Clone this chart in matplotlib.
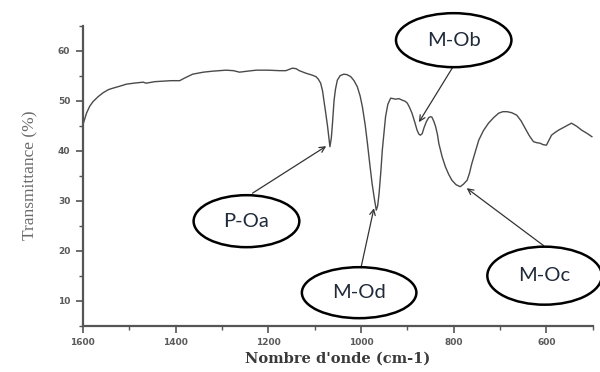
import matplotlib
matplotlib.use("Agg")
import matplotlib.pyplot as plt
from matplotlib.patches import Ellipse
from matplotlib.ticker import MultipleLocator

# IR spectrum: wavenumber (cm-1) and transmittance (%)
wavenumber = [
    1600, 1592, 1585, 1578, 1567, 1556, 1545, 1535, 1520, 1506, 1490, 1470, 1463,
    1445, 1427, 1410, 1391, 1381, 1370, 1363, 1340, 1320, 1291, 1275, 1262, 1245,
    1226, 1200, 1176, 1162, 1148, 1140, 1133, 1119, 1105, 1097, 1092, 1087, 1083,
    1080, 1076, 1072, 1069, 1067, 1064, 1062, 1060, 1058, 1055, 1051, 1045, 1037,
    1030, 1022, 1015, 1008, 1002, 997, 991, 986, 981, 976, 971, 967, 964, 961,
    957, 954, 950, 947, 942, 936, 930, 926, 918, 911, 905, 900, 895, 890, 884,
    879, 875, 872, 868, 864, 859, 854, 850, 847, 843, 839, 835, 832, 825, 818,
    811, 804, 795, 786, 779, 771, 766, 761, 753, 746, 736, 725, 714, 703, 694,
    685, 675, 664, 655, 646, 637, 628, 621, 614, 607, 600, 595, 589, 582, 574,
    560, 546, 535, 524, 513, 502,
]
transmittance = [
    45.1, 47.5, 48.9, 49.8, 50.8, 51.6, 52.2, 52.5, 52.9, 53.3, 53.5, 53.7, 53.5,
    53.8, 53.9, 54.0, 54.0, 54.5, 55.0, 55.3, 55.7, 55.9, 56.1, 56.0, 55.7, 55.9,
    56.1, 56.1, 56.0, 56.0, 56.5, 56.4, 56.0, 55.5, 55.1, 54.8, 54.3, 53.5, 52.0,
    50.1, 47.5, 44.8, 42.5, 40.8, 42.5, 44.8, 47.5, 50.1, 52.3, 54.1, 55.0, 55.3,
    55.2, 54.8, 54.0, 52.8, 51.0, 48.8, 45.2, 41.4, 37.3, 33.4, 30.3, 28.1, 29.0,
    31.4, 36.0, 40.1, 44.0, 46.8, 49.3, 50.5, 50.4, 50.3, 50.4, 50.1, 49.9, 49.5,
    48.6, 47.5, 45.7, 44.1, 43.3, 43.1, 43.4, 44.6, 45.8, 46.6, 46.8, 46.7, 45.9,
    44.8, 43.2, 41.4, 38.8, 36.8, 35.3, 34.1, 33.2, 32.8, 33.3, 34.1, 35.5, 37.4,
    39.9, 42.1, 44.0, 45.5, 46.6, 47.5, 47.8, 47.8, 47.6, 47.1, 46.0, 44.5, 43.0,
    41.8, 41.6, 41.5, 41.2, 41.1, 42.0, 43.1, 43.6, 44.1, 44.8, 45.5, 44.9, 44.1,
    43.5, 42.8,
]

# Band assignments: label, band position (arrow tip), label centre, arrow start
band_labels = ["P-Oa", "M-Od", "M-Ob", "M-Oc"]
band_tips = [(1075, 40.9), (972, 28.5), (875, 45.7), (772, 32.5)]
label_centres = [(1247, 25.9), (1004, 11.6), (800, 62.1), (604, 15.0)]
arrow_starts = [(1234, 31.5), (1000, 16.6), (802, 56.7), (606, 21.0)]
ellipse_sizes = [(228, 10.4), (247, 10.2), (249, 10.8), (247, 11.6)]

x_ticks = [1600, 1400, 1200, 1000, 800, 600]
y_ticks = [10, 20, 30, 40, 50, 60]

fig = plt.figure(figsize=(6.0, 3.72), dpi=100)
ax = fig.add_axes([0.138, 0.1245, 0.850, 0.8065])

ax.plot(wavenumber, transmittance, color="#4a4a4a", lw=1.0)

ax.set_xlim(1600, 500)
ax.set_ylim(5, 65)
ax.set_xticks(x_ticks)
ax.set_yticks(y_ticks)
ax.xaxis.set_minor_locator(MultipleLocator(100))
ax.yaxis.set_minor_locator(MultipleLocator(5))

for side in ("top", "right"):
    ax.spines[side].set_visible(False)
for side in ("left", "bottom"):
    ax.spines[side].set_color("#555555")
    ax.spines[side].set_linewidth(1.6)

ax.tick_params(which="major", direction="out", length=5, width=1.2,
               color="#555555", labelsize=6.5, labelcolor="#5a5a5a", pad=4)
ax.tick_params(which="minor", direction="out", length=3, width=1.0,
               color="#555555")
for lab in ax.get_xticklabels() + ax.get_yticklabels():
    lab.set_fontweight("bold")

ax.set_xlabel("Nombre d'onde (cm-1)", family="DejaVu Serif", fontsize=10.5,
              fontweight="bold", color="#3a3a3a", labelpad=3)
ax.set_ylabel("Transmittance (%)", family="Liberation Serif", fontsize=12.5,
              color="#6a6a6a", labelpad=14)

for name, tip, centre, start, (w, h) in zip(band_labels, band_tips,
                                             label_centres, arrow_starts,
                                             ellipse_sizes):
    ax.annotate("", xy=tip, xytext=start,
                arrowprops=dict(arrowstyle="->", color="#333333", lw=0.9,
                                shrinkA=0, shrinkB=0),
                annotation_clip=False)
    ax.add_patch(Ellipse(centre, w, h, facecolor="white", edgecolor="black",
                         lw=1.8, clip_on=False, zorder=5))
    ax.text(centre[0], centre[1], name, ha="center", va="center",
            family="Lato", fontsize=14.5, color="#1f2a3a", zorder=6,
            clip_on=False)

fig.savefig("out.png", dpi=100)
